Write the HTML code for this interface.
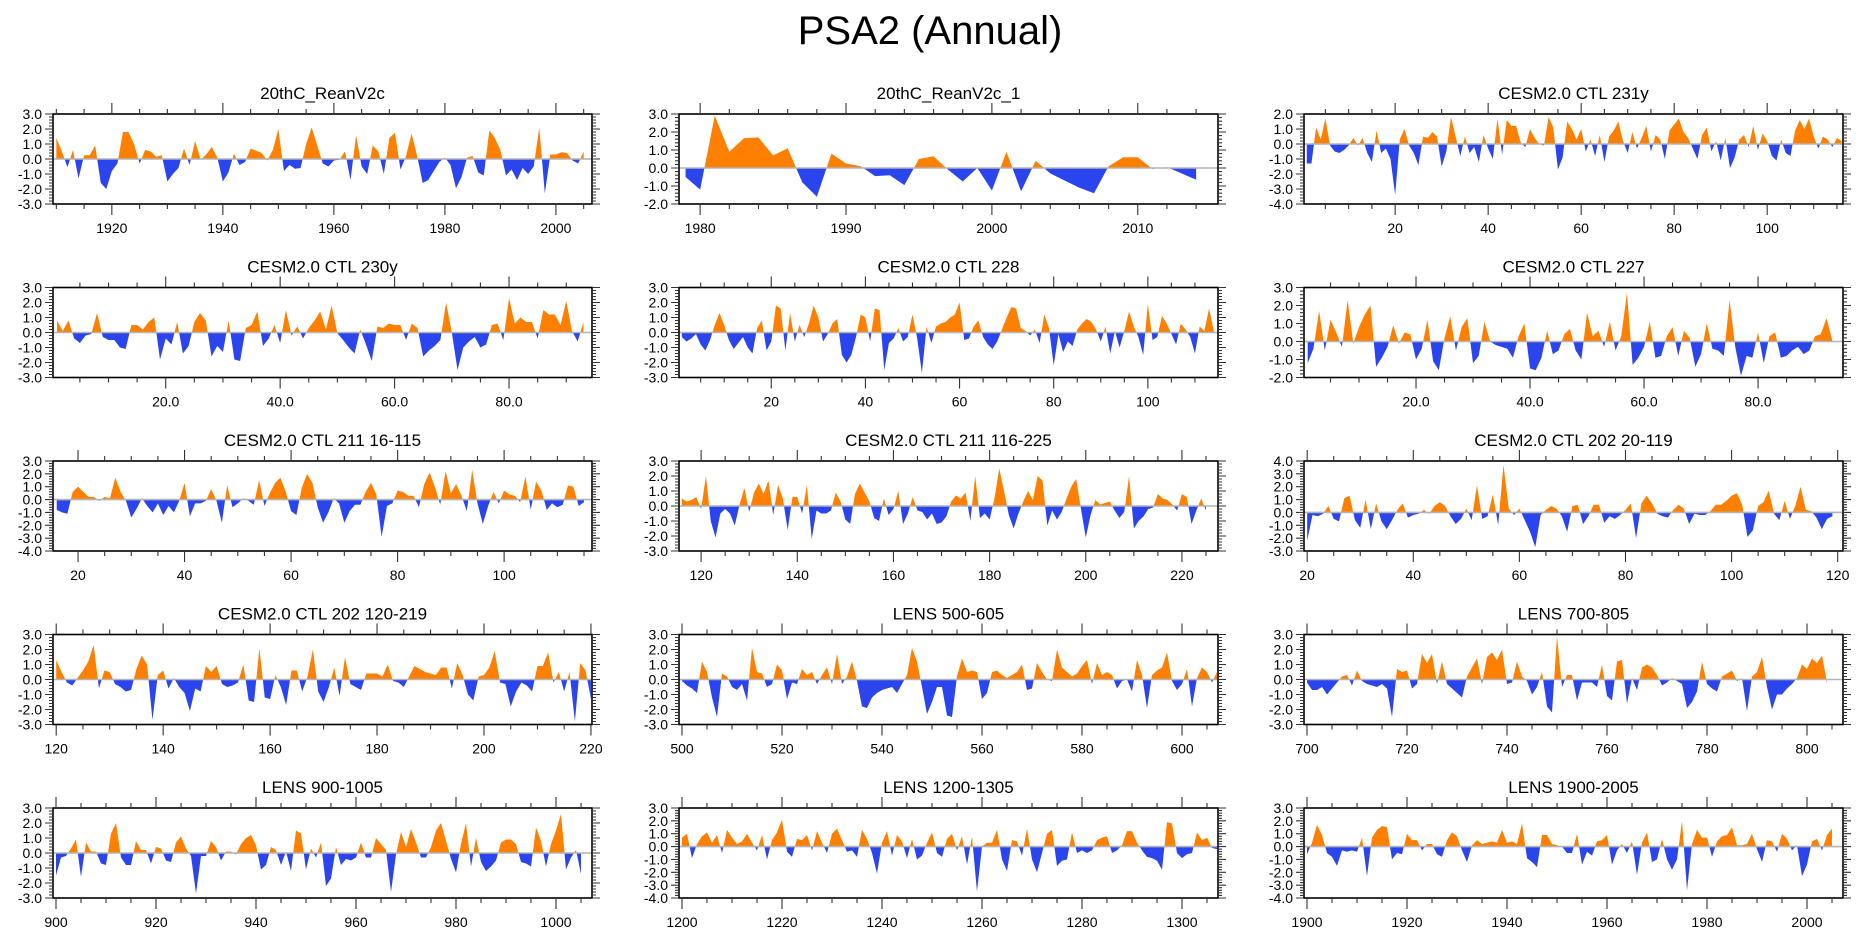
<!DOCTYPE html>
<html>
<head>
<meta charset="utf-8">
<style>
  html,body{margin:0;padding:0;background:#fff;}
  svg{display:block;font-family:"Liberation Sans",sans-serif;}
</style>
</head>
<body>
<svg id="chart" width="1861" height="937" viewBox="0 0 1861 937" xmlns="http://www.w3.org/2000/svg">
  <text x="930" y="44" text-anchor="middle" font-size="40" fill="#000">PSA2 (Annual)</text>
</svg>
<script>
const titles = ["20thC_ReanV2c","20thC_ReanV2c_1","CESM2.0 CTL 231y","CESM2.0 CTL 230y","CESM2.0 CTL 228","CESM2.0 CTL 227","CESM2.0 CTL 211 16-115","CESM2.0 CTL 211 116-225","CESM2.0 CTL 202 20-119","CESM2.0 CTL 202 120-219","LENS 500-605","LENS 700-805","LENS 900-1005","LENS 1200-1305","LENS 1900-2005"];
const starts = [1910,1979,1,1,1,1,16,116,20,120,500,700,900,1200,1900];
const xMins = [1909.4,1978.55,0.4,0.3,0.4,0.35,15.3,115.4,19.4,119.4,499.4,699.4,899.4,1199.4,1899.4];
const xMaxs = [2006.5,2015.5,116.3,94.5,114.9,94.9,116.5,227.5,121,220.2,607.2,807.2,1007.2,1307.2,2007.2];
const yMins = [-3,-2,-4,-3,-3,-2,-4,-3,-3,-3,-3,-3,-3,-4,-4];
const yMaxs = [3,3,2,3,3,3,3,3,4,3,3,3,3,3,3];
const xTickLabels = [
  [1920,1940,1960,1980,2000],[1980,1990,2000,2010],[20,40,60,80,100],[20,40,60,80],
  [20,40,60,80,100],[20,40,60,80],[20,40,60,80,100],[120,140,160,180,200,220],
  [20,40,60,80,100,120],[120,140,160,180,200,220],[500,520,540,560,580,600],
  [700,720,740,760,780,800],[900,920,940,960,980,1000],[1200,1220,1240,1260,1280,1300],
  [1900,1920,1940,1960,1980,2000]];
const xLabelDecimals = [0,0,0,1,0,1,0,0,0,0,0,0,0,0,0];
const xMajorSteps = [20,10,20,20,20,20,20,20,20,20,20,20,20,20,20];
const xMinorSteps = [5,2,5,5,5,5,5,5,5,5,5,5,5,5,5];

const v1 = [1.4,0.5,-0.55,0.6,-1.3,0.25,0.25,0.9,-1.6,-2.0,-0.8,-0.3,1.8,1.8,1.0,-0.3,0.6,0.5,0.15,0.25,-1.5,-1.0,-0.6,0.7,-0.4,1.2,-0.05,0.3,0.8,0.1,-1.5,-0.9,0.35,-0.4,-0.2,0.7,0.55,0.4,-0.1,0.6,2.0,-0.8,-0.4,-0.65,-0.6,1.0,2.1,0.9,-0.3,-0.5,-0.1,-0.05,0.5,-1.4,1.6,-0.5,-1.0,0.9,0.5,-1.0,1.4,1.75,-0.7,0.2,1.7,0.2,-1.6,-1.4,-0.8,-0.2,0.1,-0.4,-1.95,-1.2,0.1,0.2,-0.9,-1.1,1.9,1.4,0.6,-1.1,-0.7,-1.4,-0.6,-1.0,-0.5,2.1,-2.3,0.3,0.3,0.45,0.4,-0.1,-0.3,0.5];
const v2 = [-0.5,-1.2,2.9,0.9,1.65,1.7,0.7,1.1,-0.8,-1.6,0.8,0.25,0.1,-0.45,-0.4,-0.95,0.5,0.65,-0.1,-0.75,0.0,-1.25,0.9,-1.3,0.4,-0.3,-0.7,-1.1,-1.4,0.1,0.6,0.6,-0.05,0.05,-0.3,-0.65];
const v3 = [-1.3,-1.3,1.1,0.3,1.7,-0.1,-0.5,-0.6,-0.4,-0.1,0.4,-0.1,0.4,-0.6,-1.2,0.9,-0.6,-0.3,-1.0,-3.4,0.3,1.0,-0.1,-0.6,-1.4,0.5,0.4,0.8,0.5,-1.5,-0.5,1.8,0.5,-0.8,0.5,-0.6,-0.2,-1.2,0.6,-0.3,-1.0,1.7,-0.7,1.6,1.2,1.2,0.1,-0.2,1.0,0.4,0.0,-0.1,1.8,1.1,-1.7,-0.9,1.5,1.0,0.3,1.0,-0.5,0.3,-0.8,0.6,-1.2,0.5,0.9,1.5,0.2,-0.6,0.8,-0.3,0.4,1.2,-0.5,0.6,0.3,-1.0,0.9,1.3,1.7,0.8,0.4,-0.3,-1.0,0.6,1.1,-0.5,0.2,-1.1,0.4,-1.6,-0.9,0.3,0.6,-0.2,1.2,-0.4,0.7,0.2,-0.8,-1.1,0.3,-0.6,-0.8,0.9,1.6,1.0,1.7,0.5,-0.3,0.5,0.3,-0.2,0.4,0.2];
const v4 = [0.8,0.1,0.8,-0.4,-0.7,-0.2,-0.1,1.3,-0.3,-0.5,-0.5,-1.0,-1.1,0.5,0.5,0.2,0.7,1.0,-1.8,-0.4,-0.8,0.7,-1.4,-0.9,0.7,1.3,0.8,-1.6,-0.9,-1.3,0.8,-1.8,-1.9,0.3,0.5,1.4,-0.9,-0.4,0.5,-0.7,1.5,-0.2,0.4,-0.4,0.3,0.8,1.4,0.2,1.8,-0.05,-0.5,-1.0,-1.4,0.2,-0.8,-1.9,0.4,0.3,0.6,0.5,0.5,-0.5,0.6,0.3,-1.6,-1.2,-0.9,-0.5,2.0,0.0,-2.5,-1.0,-0.6,-0.3,-1.0,-0.8,0.5,0.6,-0.5,2.3,0.6,1.0,0.7,0.7,-0.4,1.5,1.2,1.2,0.5,2.1,0.1,-0.6,0.7];
const v5 = [-0.3,-0.6,-0.4,-0.1,-0.8,-1.2,-0.5,0.5,1.3,0.5,-0.5,-1.1,-0.7,-0.3,-1.0,-1.4,0.3,0.8,-1.2,-0.6,1.8,1.6,-1.2,1.3,-0.6,0.5,-0.3,0.6,1.8,1.0,-0.6,-0.1,0.6,0.9,-1.5,-2.0,-1.5,-0.3,1.2,1.0,-0.6,1.6,1.5,-2.5,-0.7,-0.4,0.3,-0.6,-0.3,1.2,-0.4,-2.7,0.4,-0.7,0.4,0.6,0.7,1.0,1.2,2.0,-0.5,-0.4,0.4,0.8,-0.3,-0.8,-1.1,-0.6,0.2,1.0,1.7,1.6,0.3,0.1,-0.2,0.2,-0.7,1.2,0.3,-2.2,-0.1,-1.3,-0.6,-0.9,0.2,0.6,0.9,0.7,0.2,-0.6,0.4,-1.4,0.1,-1.0,0.1,1.4,0.4,-0.3,-1.5,1.9,-0.5,-0.3,1.1,0.6,-0.1,-0.8,0.6,0.2,-0.3,-1.4,0.4,0.1,1.6,0.1];
const v6 = [-1.2,-0.4,1.7,-0.5,1.2,0.5,-0.3,2.3,-0.1,0.8,1.5,2.0,-1.4,-0.9,-0.3,0.9,-0.1,0.5,0.4,-1.0,-0.4,1.2,-1.1,-1.6,0.2,1.4,-0.5,0.8,1.3,-1.2,-0.8,1.1,0.0,-0.2,-0.3,-0.4,-0.9,0.3,1.0,-1.5,-1.6,-0.9,0.6,-0.7,-0.5,0.4,0.7,-0.5,-1.0,1.6,0.3,0.6,-0.3,1.1,-0.5,0.3,2.7,-1.3,-0.9,-0.3,1.1,-0.9,-0.8,0.3,0.8,-0.8,0.6,0.2,-1.4,-0.7,1.0,-0.4,-0.5,-0.8,2.3,-0.3,-1.9,-0.8,-0.9,0.5,-1.2,0.3,0.5,-0.9,-0.8,-0.5,-0.3,-0.7,-0.5,0.3,0.4,1.3,0.1];
const v7 = [-0.8,-1.0,-1.1,0.6,1.0,0.6,0.2,0.2,-0.1,0.2,0.1,1.7,0.6,-0.1,-1.4,-0.7,0.1,-0.5,-1.0,-0.3,-1.2,-0.5,-1.0,-0.1,1.3,-1.3,-0.3,-0.3,-0.1,0.8,-0.1,-1.8,1.1,-0.6,-0.3,0.1,-0.1,-0.4,1.5,-0.5,0.5,1.3,1.7,0.6,-0.9,-1.2,0.9,2.0,1.3,-0.6,-1.8,-1.0,0.1,-0.3,-1.8,-0.9,-0.4,-0.4,0.6,1.3,0.4,-2.9,-0.5,-0.3,0.7,0.6,0.3,0.3,-0.6,1.2,2.1,1.0,-0.4,2.2,0.5,1.2,0.3,-0.9,2.3,-0.3,-1.9,-0.5,0.6,-0.3,0.7,0.4,0.3,-0.2,1.8,-0.8,1.4,0.7,-0.8,-0.3,-0.6,-0.4,1.1,1.0,-0.5,-0.2];
const v8 = [0.5,0.3,0.4,0.6,-0.2,2.0,-1.0,-2.1,-0.5,-0.2,-0.5,-1.3,0.1,1.2,-0.4,0.9,1.5,0.8,1.7,-0.6,1.4,0.5,-1.6,0.6,0.6,-0.5,1.4,-2.2,-0.3,-0.5,-0.5,-0.3,0.9,0.3,-0.9,-1.2,0.8,1.5,0.9,0.3,-0.8,-1.0,0.5,-0.6,-0.2,1.0,-1.2,-0.5,0.6,-0.3,-0.4,-0.9,-0.5,-1.2,-1.1,-0.7,0.3,0.7,0.5,0.9,-1.0,2.0,-0.8,-0.5,-0.9,0.5,2.5,1.0,-0.6,-1.5,-0.5,0.3,1.0,0.4,2.0,1.7,-1.3,-0.3,-0.9,-0.4,0.5,1.3,1.8,-0.2,-2.1,-0.6,0.4,0.1,0.2,0.3,-0.3,-0.8,-0.4,2.0,-1.5,-1.0,-0.7,-0.2,-0.1,0.8,0.5,0.4,0.1,-0.3,0.8,0.6,-1.2,-0.3,0.5,-0.3];
const v9 = [-2.2,-0.2,-0.3,-0.1,0.5,-0.5,-0.7,1.1,1.3,-0.6,-1.2,1.0,-1.3,0.7,-0.7,-1.3,-0.6,0.2,0.7,-0.4,-0.2,-0.1,0.2,-0.1,0.5,0.8,0.5,-0.3,-0.9,-0.5,0.3,-0.6,2.1,-0.5,-0.3,1.4,-1.0,3.7,0.3,-0.2,0.3,-0.6,-1.5,-2.7,-0.2,0.2,0.5,0.3,-0.3,-1.5,0.5,0.6,-0.9,-0.3,0.6,0.6,-0.8,-0.3,-0.5,-0.2,0.2,0.7,-2.0,0.7,1.3,0.7,-0.1,-0.3,-0.4,0.2,0.6,0.3,-0.9,-0.1,-0.2,-0.2,0.1,0.6,0.6,0.9,1.3,1.5,0.6,-1.9,-1.4,0.5,0.8,1.7,-0.1,-0.6,0.9,-0.5,0.5,2.0,0.2,0.1,-0.4,-1.3,-0.5,-0.3];
const v10 = [1.3,0.5,-0.2,-0.4,0.1,0.6,1.2,2.3,-0.6,0.6,0.5,-0.3,-0.5,-0.8,-0.7,0.7,1.6,1.0,-2.7,0.3,0.6,-0.6,0.1,-0.5,-0.9,-2.1,-0.6,-0.8,0.9,0.5,0.9,-0.3,-0.5,-0.4,-0.2,1.0,-1.4,-1.5,2.1,-1.2,-1.3,0.3,-0.5,-1.7,0.6,0.6,-0.8,0.2,2.0,-0.8,-1.5,-0.5,0.8,-1.1,1.5,-0.3,-0.5,-0.7,0.4,0.4,0.4,0.2,1.0,-0.1,-0.2,-0.5,0.2,0.9,0.7,0.5,0.4,0.3,0.8,0.8,-0.6,1.1,0.3,-1.0,-1.4,0.2,0.3,0.8,1.9,-0.2,-0.3,-1.8,-0.8,-0.2,-0.4,-0.8,0.9,0.9,1.8,-0.2,0.5,-0.8,0.5,-2.8,1.1,0.6,-1.3];
const v11 = [-0.1,-0.4,-0.6,-0.9,1.2,0.5,-1.2,-2.5,0.4,0.2,-0.5,-0.7,-0.3,-1.4,2.1,0.5,0.4,-0.5,-0.3,1.0,0.6,-1.3,-0.2,-0.3,0.7,0.3,0.5,-0.3,0.3,0.8,-0.3,1.7,-0.3,0.2,1.2,-0.1,-1.8,-1.9,-1.2,-0.9,-0.7,-0.6,-0.5,-0.9,-0.3,0.3,2.1,1.2,-0.5,-2.3,-1.5,-0.5,-0.5,-2.4,-2.5,0.2,1.4,0.5,0.6,0.5,-1.3,-0.9,0.5,0.6,0.3,0.1,0.3,0.5,1.0,-0.7,-0.6,1.1,0.5,0.0,-0.1,2.0,0.8,0.5,0.2,0.4,0.9,1.3,-0.3,1.1,0.3,0.5,0.3,-0.6,-0.1,0.0,-0.8,1.3,0.3,-1.9,0.3,0.6,0.8,1.8,-0.1,-0.7,-0.3,0.7,-1.8,0.1,0.8,0.5,-0.2,0.5];
const v12 = [-0.2,-0.7,-0.7,-0.5,-1.0,-0.6,-0.2,0.2,0.3,-0.4,0.6,-0.1,-0.3,-0.4,-0.5,-0.3,-0.6,-2.5,0.7,0.5,0.6,-0.6,-0.3,1.7,1.1,1.7,-0.3,1.2,-0.3,-0.6,-0.9,-1.2,0.2,0.8,1.4,-0.3,1.5,1.8,1.3,2.0,-0.3,-0.2,1.2,0.2,-0.1,-1.0,-0.5,0.5,-1.8,-2.2,2.9,-0.5,0.3,0.3,-1.4,-0.2,-0.2,-0.2,-0.5,1.0,-1.1,-1.4,1.2,1.3,-1.6,0.1,-0.7,0.8,1.0,0.8,0.3,-0.4,-0.2,0.1,-0.1,-0.3,-1.9,-1.5,-0.8,1.2,-0.3,-0.6,-0.8,0.2,0.4,0.6,-0.1,0.1,-2.1,0.2,0.5,1.5,-0.5,-2.0,-1.0,-1.0,-0.6,-0.3,0.1,1.0,0.7,1.4,1.1,1.6,-0.2];
const v13 = [-1.5,-0.3,-0.2,0.3,0.9,-1.6,0.7,0.1,0.1,-0.7,-0.8,1.3,2.0,-0.3,-0.8,-0.8,0.8,0.2,0.2,-0.7,0.4,0.3,-0.5,-0.6,0.7,1.1,0.3,-0.2,-2.7,-0.2,-0.2,0.8,0.4,-0.5,0.1,0.1,-0.1,0.6,1.0,1.2,0.5,-1.1,-0.8,0.4,0.2,-0.8,0.1,-1.2,1.5,1.3,-1.1,0.3,-0.3,0.7,-2.2,-1.7,0.4,-0.8,-0.4,-0.5,-0.3,0.7,-0.3,-0.3,1.0,0.6,0.2,-2.6,-0.1,1.4,0.4,1.6,0.7,-0.3,-0.3,0.4,1.5,2.0,0.8,-0.4,-1.3,0.6,2.0,-0.9,1.0,-0.6,-1.2,-0.9,-0.5,0.7,0.9,0.9,0.6,-0.6,-0.7,-0.9,1.7,0.8,-0.9,0.6,1.5,2.6,-1.1,-0.3,0.2,-1.4];
const v14 = [0.7,1.0,-0.9,0.2,0.8,1.1,0.3,0.9,-0.5,1.3,0.7,0.2,0.4,1.0,0.3,-0.3,0.9,-1.0,0.5,1.1,2.1,-0.4,-0.8,0.6,0.5,0.9,-0.3,1.2,0.3,-0.5,1.0,1.4,0.5,-0.4,-0.3,-0.8,1.3,0.6,-0.5,-2.1,0.3,1.2,-0.7,0.9,0.4,-0.9,0.6,-1.0,-0.7,0.3,1.1,-0.5,-0.8,0.6,1.0,-0.3,0.8,-1.4,0.8,-3.5,0.0,0.3,0.3,1.3,-1.0,-1.9,0.5,0.4,-0.7,1.4,-1.0,-2.0,-0.5,1.0,1.3,-1.5,-1.1,-1.0,1.1,-0.5,-0.3,-0.5,-0.3,0.5,0.7,0.8,-0.5,-0.3,0.1,1.2,1.2,0.3,-0.3,-0.8,-0.9,-1.1,-1.8,1.9,1.8,-0.5,-0.9,-0.6,-0.5,1.1,0.5,0.7,-0.1,-0.2];
const v15 = [-0.6,0.3,1.7,0.9,-0.5,-0.8,-1.5,-0.3,-0.4,-0.3,-0.4,0.7,-2.3,0.7,1.3,1.6,1.5,-1.0,-0.5,-0.6,1.0,0.5,0.5,-0.3,0.2,0.2,-0.6,-0.8,0.5,1.1,0.8,-0.3,-1.2,0.1,0.5,0.2,0.3,0.4,0.3,1.3,0.3,0.4,0.2,1.8,-0.9,-1.2,-1.6,0.9,0.9,0.2,0.1,0.0,-0.5,-0.5,1.0,-1.4,-0.4,-0.7,0.4,0.5,0.9,-1.4,-0.3,0.2,-0.5,0.4,-2.2,0.3,1.1,-1.2,-1.0,0.6,-1.0,-1.8,-1.0,2.0,-3.4,0.2,1.3,0.7,0.7,-0.8,0.4,0.8,0.9,1.5,0.1,0.1,0.2,1.0,-0.2,-1.2,0.5,0.4,-0.4,1.0,0.6,-0.3,0.1,-2.3,-1.4,0.4,0.6,-0.3,0.9,1.4];
const seriesValues = [v1,v2,v3,v4,v5,v6,v7,v8,v9,v10,v11,v12,v13,v14,v15];

const NS = "http://www.w3.org/2000/svg";
const svg = document.getElementById("chart");
const colLeft = [53, 679, 1304];
const boxW = 539, boxH = 90, rowTop0 = 114, rowGap = 173.5;

function mk(tag, attrs, parent) {
  const e = document.createElementNS(NS, tag);
  for (const k in attrs) e.setAttribute(k, attrs[k]);
  parent.appendChild(e);
  return e;
}

for (let p = 0; p < 15; p++) {
  const L = colLeft[p % 3];
  const T = rowTop0 + Math.floor(p / 3) * rowGap;
  const R = L + boxW, B = T + boxH;
  const xmin = xMins[p], xmax = xMaxs[p], ymin = yMins[p], ymax = yMaxs[p];
  const xs = v => L + (v - xmin) / (xmax - xmin) * boxW;
  const ys = v => B - (v - ymin) / (ymax - ymin) * boxH;
  const y0 = ys(0);

  const g = mk("g", {}, svg);
  
  

  const t = mk("text", {x: (L + R) / 2, y: T - 15, "text-anchor": "middle", "font-size": 17, fill: "#000"}, g);
  
  
  t.textContent = titles[p];

  const defs = mk("defs", {}, g);
  const cpPos = mk("clipPath", {id: "pos" + p}, defs);
  mk("rect", {x: L, y: T, width: boxW, height: y0 - T}, cpPos);
  const cpNeg = mk("clipPath", {id: "neg" + p}, defs);
  mk("rect", {x: L, y: y0, width: boxW, height: B - y0}, cpNeg);

  const vals = seriesValues[p];
  let pts = xs(starts[p]).toFixed(2) + "," + y0.toFixed(2) + " ";
  for (let i = 0; i < vals.length; i++) {
    pts += xs(starts[p] + i).toFixed(2) + "," + ys(vals[i]).toFixed(2) + " ";
  }
  pts += xs(starts[p] + vals.length - 1).toFixed(2) + "," + y0.toFixed(2);

  const pos = mk("polygon", {points: pts, fill: "#ff8000", "clip-path": "url(#pos" + p + ")"}, g);
  
  
  const neg = mk("polygon", {points: pts, fill: "#2b45ee", "clip-path": "url(#neg" + p + ")"}, g);
  
  

  const zl = mk("line", {x1: L, x2: R, y1: y0, y2: y0, stroke: "#b4b4b4", "stroke-width": 1.6}, g);
  
  

  const box = mk("rect", {x: L, y: T, width: boxW, height: boxH, fill: "none", stroke: "#000", "stroke-width": 1.6}, g);
  
  

  // y ticks
  let tk = "";
  for (let v = ymin; v <= ymax + 1e-6; v += 0.2) {
    const yy = ys(v);
    const major = Math.abs(v - Math.round(v)) < 1e-6;
    const len = major ? 8 : 4;
    tk += "M" + L + "," + yy + "h" + (-len) + "M" + R + "," + yy + "h" + len;
  }
  // x ticks
  const mn = xMinorSteps[p];
  for (let v = Math.ceil(xmin / mn) * mn; v <= xmax; v += mn) {
    const xx = xs(v);
    const major = Math.abs(v / xMajorSteps[p] - Math.round(v / xMajorSteps[p])) < 1e-6;
    const len = major ? 11 : 5;
    tk += "M" + xx + "," + T + "v" + (-len) + "M" + xx + "," + B + "v" + len;
  }
  const tp = mk("path", {d: tk, stroke: "#333", "stroke-width": 1.1, fill: "none"}, g);
  
  

  for (let v = ymin; v <= ymax; v++) {
    const yl = mk("text", {x: L - 11, y: ys(v) + 5, "text-anchor": "end", "font-size": 14, fill: "#000"}, g);
    
    
    yl.textContent = v.toFixed(1);
  }
  const labs = xTickLabels[p];
  for (let i = 0; i < labs.length; i++) {
    const xl = mk("text", {x: xs(labs[i]), y: B + 29, "text-anchor": "middle", "font-size": 14, fill: "#000"}, g);
    
    
    xl.textContent = labs[i].toFixed(xLabelDecimals[p]);
  }
}
</script>
</body>
</html>
